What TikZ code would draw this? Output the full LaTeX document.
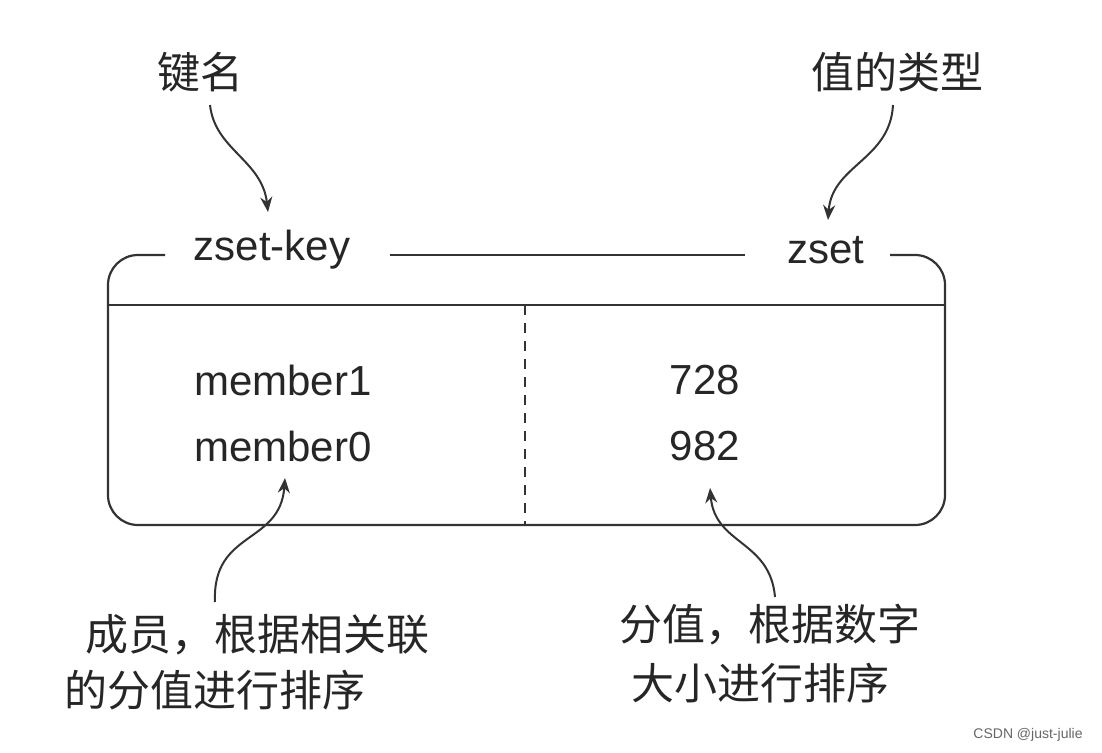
\documentclass[tikz,border=0pt]{standalone}
\usepackage{fontspec}
\setmainfont{Liberation Sans}
\newfontfamily\cjk{Noto Sans CJK SC}
\usetikzlibrary{arrows.meta}
\begin{document}
\begin{tikzpicture}[x=1pt,y=-1pt,
  lat/.style={font=\fontsize{42}{46}\selectfont,text=black!85},
  zh/.style={font=\cjk\fontsize{43}{48}\selectfont,text=black!85},
  line/.style={draw=black!80,line width=2.2pt},
  arr/.style={draw=black!80,line width=2pt,-{Stealth[length=15pt,width=12pt]}}]
\useasboundingbox (0,0) rectangle (1102,752);
\fill[white] (0,0) rectangle (1102,752);
\node[zh] (kn) at (200,72) {键名};
\node[zh] (vt) at (897,72) {值的类型};
\node[lat] (zk) at (272,250) {zset-key};
\node[lat] (zs) at (826,250) {zset};
\coordinate (lgap) at (165,255);
\coordinate (rgap) at (890,255);
\draw[line,rounded corners=30pt] (lgap) -- (108,255) -- (108,525) -- (945,525) -- (945,255) -- (rgap);
\draw[line] (390,255) -- (745,255);
\draw[line] (108,305) -- (945,305);
\draw[line,line width=1.8pt,dash pattern=on 10pt off 8pt] (525,305) -- (525,525);
\node[lat] (m1) at (283,380) {member1};
\node[lat] (m0) at (283,446) {member0};
\node[lat] (v1) at (705,380) {728};
\node[lat] (v0) at (705,446) {982};
\node[zh] (b1) at (257,635) {成员，根据相关联};
\node[zh] (b2) at (215,690) {的分值进行排序};
\node[zh] (c1) at (770,625) {分值，根据数字};
\node[zh] (c2) at (760,683) {大小进行排序};
\node[font=\fontsize{14}{16}\selectfont,text=black!60] (wm) at (1028,735) {CSDN @just-julie};
\coordinate (a1s) at (210,105); \coordinate (a1e) at (268,212);
\draw[arr] (a1s) .. controls (215,150) and (262,160) .. (a1e);
\coordinate (a2s) at (893,105); \coordinate (a2e) at (828,220);
\draw[arr] (a2s) .. controls (890,160) and (832,165) .. (a2e);
\coordinate (a3s) at (215,602); \coordinate (a3e) at (285,478);
\draw[arr] (a3s) .. controls (212,530) and (280,545) .. (a3e);
\coordinate (a4s) at (775,597); \coordinate (a4e) at (710,488);
\draw[arr] (a4s) .. controls (770,540) and (715,545) .. (a4e);
\end{tikzpicture}
\end{document}
